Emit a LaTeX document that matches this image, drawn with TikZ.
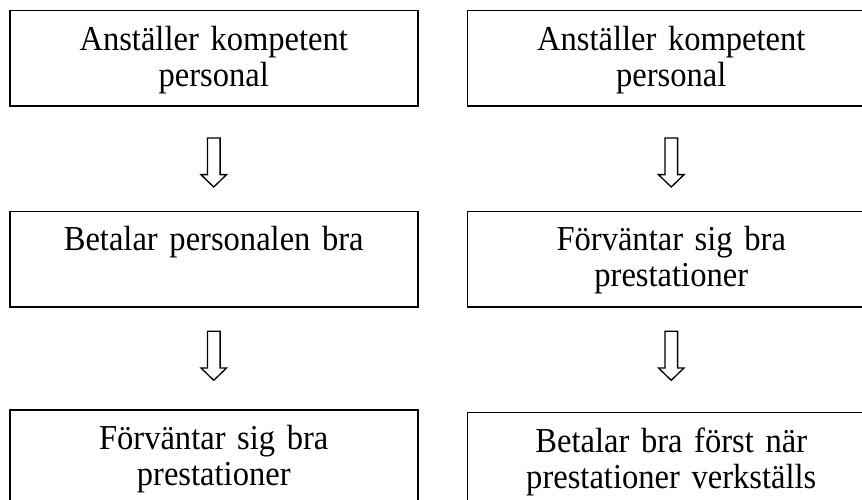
\documentclass[tikz,border=0pt]{standalone}
\usepackage{fontspec}
\setmainfont{Liberation Serif}[FakeStretch=0.93, WordSpace=0.5]
\usepackage{tikz}
\usetikzlibrary{positioning}
\usetikzlibrary{calc}

\tikzset{
    stepbox/.style={draw, line width=1.5pt, inner xsep=4pt, inner ysep=0pt,
        text width=400pt, align=center, text height=39.5pt, text depth=56pt,
        font=\fontsize{35}{36}\selectfont},
    downarrow/.pic={
        \draw[line width=1.3pt, line join=miter, fill=white]
            (-6.35,0) -- (-6.35,36.6) -- (-12.85,36.6) -- (0,49)
            -- (12.85,36.6) -- (6.35,36.6) -- (6.35,0) -- cycle;
    },
}

\begin{document}
\begin{tikzpicture}[
            x=1pt, y=-1pt, thick,
    ]
    \clip (0,0) rectangle (862,500);

    \node[stepbox, anchor=north] (a1) at (213.75,10) {Anställer kompetent\\personal};
    \node[stepbox, below=103.7pt of a1] (a2) {Betalar personalen bra};
    \node[stepbox, below=101.5pt of a2] (a3) {Förväntar sig bra\\prestationer};

    \node[stepbox, right=48pt of a1] (b1) {Anställer kompetent\\personal};
    \node[stepbox, right=48pt of a2] (b2) {Förväntar sig bra\\prestationer};
    \node[stepbox, right=48pt of a3, yshift=-2.6pt] (b3) {Betalar bra först när\\prestationer verkställs};

    \pic at ($(a1.south)+(0,31)$) {downarrow};
    \pic at ($(a2.south)+(0,23.6)$) {downarrow};
    \pic at ($(b1.south)+(0,31)$) {downarrow};
    \pic at ($(b2.south)+(0,23.6)$) {downarrow};
\end{tikzpicture}
\end{document}
